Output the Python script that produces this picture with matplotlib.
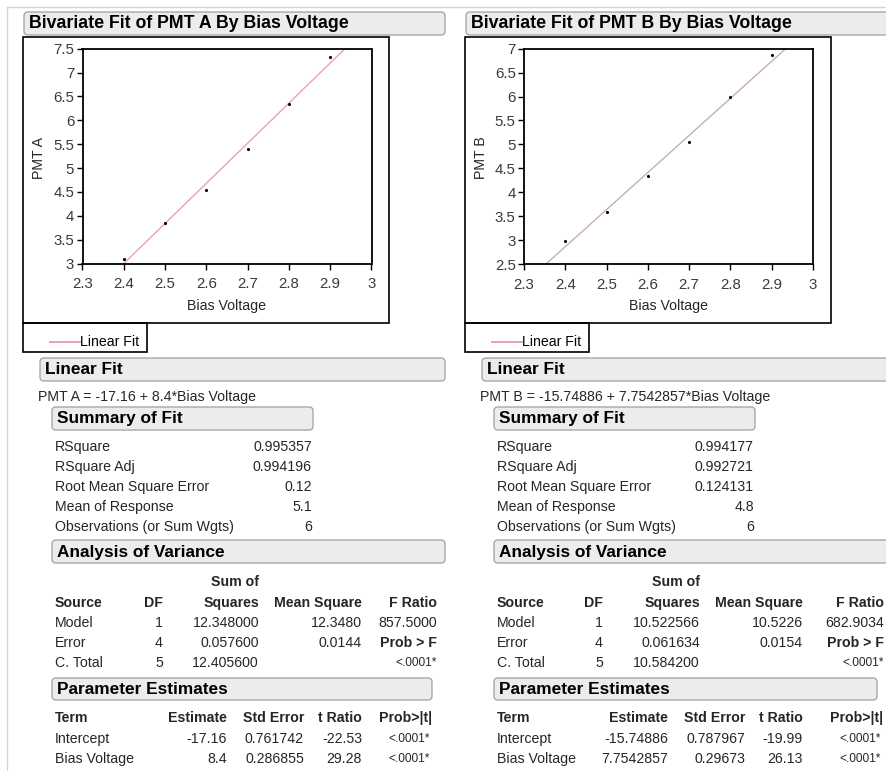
import matplotlib
matplotlib.use("Agg")
import matplotlib.pyplot as plt
from matplotlib.patches import FancyBboxPatch, Rectangle
import numpy as np

plt.rcParams['font.family'] = ['Liberation Sans', 'DejaVu Sans']

# ---------------- data ----------------
bias_voltage = [2.4, 2.5, 2.6, 2.7, 2.8, 2.9]
pmt_a = [3.10, 3.84, 4.53, 5.39, 6.35, 7.33]
pmt_b = [2.98, 3.58, 4.33, 5.05, 6.00, 6.86]
fit_a = (-17.16, 8.4)
fit_b = (-15.74886, 7.7542857)
x_ticks = [2.3, 2.4, 2.5, 2.6, 2.7, 2.8, 2.9, 3.0]
x_tick_labels = ["2.3", "2.4", "2.5", "2.6", "2.7", "2.8", "2.9", "3"]
y_ticks_a = [3, 3.5, 4, 4.5, 5, 5.5, 6, 6.5, 7, 7.5]
y_tick_labels_a = ["3", "3.5", "4", "4.5", "5", "5.5", "6", "6.5", "7", "7.5"]
y_ticks_b = [2.5, 3, 3.5, 4, 4.5, 5, 5.5, 6, 6.5, 7]
y_tick_labels_b = ["2.5", "3", "3.5", "4", "4.5", "5", "5.5", "6", "6.5", "7"]

equation_a = "PMT A = -17.16 + 8.4*Bias Voltage"
equation_b = "PMT B = -15.74886 + 7.7542857*Bias Voltage"
summary_labels = ["RSquare", "RSquare Adj", "Root Mean Square Error",
                  "Mean of Response", "Observations (or Sum Wgts)"]
summary_a = ["0.995357", "0.994196", "0.12", "5.1", "6"]
summary_b = ["0.994177", "0.992721", "0.124131", "4.8", "6"]
anova_sources = ["Model", "Error", "C. Total"]
anova_df = ["1", "4", "5"]
anova_ss_a = ["12.348000", "0.057600", "12.405600"]
anova_ms_a = ["12.3480", "0.0144", ""]
anova_f_a = ["857.5000", "Prob > F", "<.0001*"]
anova_ss_b = ["10.522566", "0.061634", "10.584200"]
anova_ms_b = ["10.5226", "0.0154", ""]
anova_f_b = ["682.9034", "Prob > F", "<.0001*"]
param_terms = ["Intercept", "Bias Voltage"]
param_est_a = ["-17.16", "8.4"]
param_se_a = ["0.761742", "0.286855"]
param_t_a = ["-22.53", "29.28"]
param_p_a = ["<.0001*", "<.0001*"]
param_est_b = ["-15.74886", "7.7542857"]
param_se_b = ["0.787967", "0.29673"]
param_t_b = ["-19.99", "26.13"]
param_p_b = ["<.0001*", "<.0001*"]

W, H = 886, 771
fig = plt.figure(figsize=(W / 100, H / 100), dpi=100)
fig.patch.set_facecolor('white')

ov = fig.add_axes([0, 0, 1, 1])
ov.set_xlim(0, W)
ov.set_ylim(H, 0)
ov.axis('off')

TXT = '#262626'
BODY = 10.2
HEAD = 12.4
SMALL = 8.6

# outer report border
ov.plot([7, W], [7, 7], color='#d4d4d4', lw=1)
ov.plot([7, 7], [7, H], color='#d4d4d4', lw=1)


def header(x0, x1, y0, y1, text, size=HEAD):
    p = FancyBboxPatch((x0, y0), x1 - x0, y1 - y0,
                       boxstyle="round,pad=0,rounding_size=4",
                       fc='#ececec', ec='#a8a8a8', lw=1.0)
    ov.add_patch(p)
    ov.text(x0 + 5, (y0 + y1) / 2 + 0.5, text, fontsize=size, fontweight='bold',
            color='black', va='center', ha='left')


def t(x, y, s, ha='left', bold=False, size=BODY, color=TXT, rot=0):
    ov.text(x, y, s, fontsize=size, ha=ha, va='center', rotation=rot,
            fontweight='bold' if bold else 'normal', color=color)


def panel(dx, title, ylab, xs, ys, fit, yticks, ylabels, ylim, line_col,
          ax_box, eq, summ, ss, ms, fr, est, se, tr, pv, cols_anova, cols_param,
          hdr_right, param_right):
    # title header
    header(24 + dx, hdr_right, 12, 35, title, size=12.8)
    # frame around the plot
    ov.add_patch(Rectangle((23 + dx, 37), 366, 286, fill=False, ec='black', lw=1.2))
    ov.add_patch(Rectangle((23 + dx, 323), 124, 29, fill=False, ec='black', lw=1.2))
    ov.plot([50 + dx, 80 + dx], [342, 342], color='#e89aa8', lw=1.3)
    t(80 + dx, 342, "Linear Fit", color='black')

    # plot axes
    l, r, tp, bt = ax_box
    ax = fig.add_axes([l / W, 1 - bt / H, (r - l) / W, (bt - tp) / H])
    ax.scatter(xs, ys, s=5, color='black', zorder=3, linewidths=0)
    xx = np.linspace(2.3, 3.0, 50)
    ax.plot(xx, fit[0] + fit[1] * xx, color=line_col, lw=1.0, zorder=2)
    ax.set_xlim(2.3, 3.0)
    ax.set_ylim(*ylim)
    ax.set_xticks(x_ticks)
    ax.set_xticklabels(x_tick_labels)
    ax.set_yticks(yticks)
    ax.set_yticklabels(ylabels)
    ax.tick_params(direction='out', length=4, width=1, labelsize=10.8,
                   labelcolor='#3a3a3a')
    ax.tick_params(axis='x', pad=6)
    ax.tick_params(axis='y', pad=2)
    for sp in ax.spines.values():
        sp.set_linewidth(1.3)
        sp.set_color('black')
    ax.set_facecolor('white')
    t(39 + dx, 158, ylab, ha='center', rot=90)
    t((l + r) / 2, 306, "Bias Voltage", ha='center')

    # Linear Fit
    header(40 + dx, hdr_right, 358, 381, "Linear Fit")
    t(38 + dx, 397, eq)
    header(52 + dx, 313 + dx, 407, 430, "Summary of Fit")
    for i, (lab, val) in enumerate(zip(summary_labels, summ)):
        y = 447 + 20 * i
        t(55 + dx, y, lab)
        t(312 + dx, y, val, ha='right')
    header(52 + dx, hdr_right, 540, 563, "Analysis of Variance")
    c_df, c_ss, c_ms, c_f = cols_anova
    t(c_ss, 582, "Sum of", ha='right', bold=True)
    t(55 + dx, 603, "Source", bold=True)
    t(c_df, 603, "DF", ha='right', bold=True)
    t(c_ss, 603, "Squares", ha='right', bold=True)
    t(c_ms, 603, "Mean Square", ha='right', bold=True)
    t(c_f, 603, "F Ratio", ha='right', bold=True)
    for i in range(3):
        y = 623 + 20 * i
        t(55 + dx, y, anova_sources[i])
        t(c_df, y, anova_df[i], ha='right')
        t(c_ss, y, ss[i], ha='right')
        t(c_ms, y, ms[i], ha='right')
        t(c_f, y, fr[i], ha='right', bold=(fr[i] == "Prob > F"),
          size=(SMALL if fr[i].startswith('<') else BODY))
    header(52 + dx, param_right, 678, 700, "Parameter Estimates")
    c_e, c_se, c_t, c_p = cols_param
    t(55 + dx, 718, "Term", bold=True)
    t(c_e, 718, "Estimate", ha='right', bold=True)
    t(c_se, 718, "Std Error", ha='right', bold=True)
    t(c_t, 718, "t Ratio", ha='right', bold=True)
    t(c_p, 718, "Prob>|t|", ha='right', bold=True)
    for i in range(2):
        y = 739 + 20 * i
        t(55 + dx, y, param_terms[i])
        t(c_e, y, est[i], ha='right')
        t(c_se, y, se[i], ha='right')
        t(c_t, y, tr[i], ha='right')
        t(c_p - 2, y, pv[i], ha='right', size=SMALL)


panel(0, "Bivariate Fit of PMT A By Bias Voltage", "PMT A", bias_voltage, pmt_a,
      fit_a, y_ticks_a, y_tick_labels_a, (3, 7.5), '#e3a6b2',
      (82.5, 371.5, 48.7, 263.5), equation_a, summary_a,
      anova_ss_a, anova_ms_a, anova_f_a,
      param_est_a, param_se_a, param_t_a, param_p_a,
      (163, 259, 362, 437), (227, 304, 362, 432), 445, 432)

panel(442, "Bivariate Fit of PMT B By Bias Voltage", "PMT B", bias_voltage, pmt_b,
      fit_b, y_ticks_b, y_tick_labels_b, (2.5, 7), '#c4b0b4',
      (524, 813, 48.7, 264), equation_b, summary_b,
      anova_ss_b, anova_ms_b, anova_f_b,
      param_est_b, param_se_b, param_t_b, param_p_b,
      (603, 700, 803, 884), (668, 745, 803, 883), 892, 877)

fig.savefig("out.png", dpi=100, facecolor='white')
